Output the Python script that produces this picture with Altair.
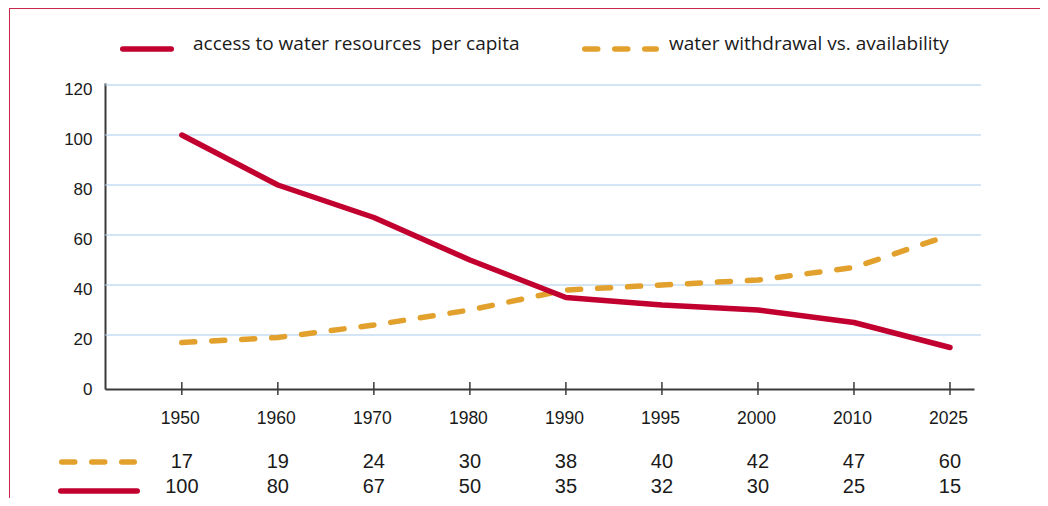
import altair as alt
import pandas as pd

# ---- data ----
years = ["1950", "1960", "1970", "1980", "1990", "1995", "2000", "2010", "2025"]
withdrawal = [17, 19, 24, 30, 38, 40, 42, 47, 60]
access = [100, 80, 67, 50, 35, 32, 30, 25, 15]
grid_values = [20, 40, 60, 80, 100, 120]
y_ticks = [0, 20, 40, 60, 80, 100, 120]
series_labels = ["access to water resources\u00a0 per capita", "water withdrawal vs. availability"]

RED = "#C2002F"
ORANGE = "#E2A12C"
GRID = "#A9CCEB"
AXIS = "#3a3a3a"
TEXT = "#1a1a1a"
BORDER = "#C8284A"

idx = list(range(len(years)))
df = pd.DataFrame({"idx": idx, "year": years, "withdrawal": withdrawal, "access": access})
grid_df = pd.DataFrame({"v": grid_values})
lab_red = pd.DataFrame({"label": [series_labels[0]]})
lab_org = pd.DataFrame({"label": [series_labels[1]]})
one = pd.DataFrame({"a": [0]})

W, H = 869, 306
xscale = alt.Scale(domain=[-0.8, 8.25], nice=False, zero=False)
yscale = alt.Scale(domain=[-1.6, 120.8], nice=False, zero=False)

label_expr = "[" + ",".join(f"'{y}'" for y in years) + "][datum.value]"

x_axis = alt.Axis(values=idx, labelExpr=label_expr, ticks=False, grid=False,
                  domainColor=AXIS, domainWidth=2, labelFont="Liberation Sans",
                  labelFontSize=17.5, labelColor=TEXT, labelPadding=29,
                  labelBaseline="middle", labelOffset=-2, title=None,
                  labelFlush=False, labelOverlap=False)
y_axis = alt.Axis(values=y_ticks, ticks=False, grid=False, domainColor=AXIS,
                  domainWidth=2, labelFont="Liberation Sans", labelFontSize=17,
                  labelColor=TEXT, labelPadding=13, labelOffset=4, title=None,
                  labelFlush=False, labelOverlap=False)

X = alt.X("idx:Q", scale=xscale, axis=x_axis)

grid = alt.Chart(grid_df).mark_rule(color=GRID, strokeWidth=1.2).encode(
    y=alt.Y("v:Q", scale=yscale, axis=y_axis),
    x=alt.value(0), x2=alt.value(876))

ticks = alt.Chart(df).mark_rule(color=AXIS, strokeWidth=1.5).encode(
    x=X, y=alt.value(299), y2=alt.value(312))

red_line = alt.Chart(df).mark_line(color=RED, strokeWidth=5.5, interpolate="linear",
                                   strokeCap="round", strokeJoin="round").encode(
    x=X, y=alt.Y("access:Q", scale=yscale, axis=y_axis))

org_line = alt.Chart(df).mark_line(color=ORANGE, strokeWidth=5.5, interpolate="linear",
                                   strokeCap="round", strokeDash=[13, 17]).encode(
    x=X, y=alt.Y("withdrawal:Q", scale=yscale, axis=y_axis))

# top legend
leg_red = alt.Chart(one).mark_rule(color=RED, strokeWidth=5.5, strokeCap="round").encode(
    x=alt.value(17.75), x2=alt.value(66.25), y=alt.value(-34))
leg_org = alt.Chart(one).mark_rule(color=ORANGE, strokeWidth=5.5, strokeCap="round",
                                   strokeDash=[13, 17]).encode(
    x=alt.value(479.75), x2=alt.value(551.25), y=alt.value(-34))
leg_red_t = alt.Chart(lab_red).mark_text(font="Open Sans", fontSize=19, color=TEXT,
                                         align="left", baseline="alphabetic").encode(
    text="label:N", x=alt.value(88), y=alt.value(-33))
leg_org_t = alt.Chart(lab_org).mark_text(font="Open Sans", fontSize=19, color=TEXT,
                                         align="left", baseline="alphabetic").encode(
    text="label:N", x=alt.value(564), y=alt.value(-33))

# bottom table
tab_org_line = alt.Chart(one).mark_rule(color=ORANGE, strokeWidth=5.5, strokeCap="round",
                                        strokeDash=[13, 17]).encode(
    x=alt.value(-43.25), x2=alt.value(29.25), y=alt.value(379))
tab_red_line = alt.Chart(one).mark_rule(color=RED, strokeWidth=5.5, strokeCap="round").encode(
    x=alt.value(-44.25), x2=alt.value(32.25), y=alt.value(408))
tab_org = alt.Chart(df).mark_text(font="Liberation Sans", fontSize=20, color=TEXT,
                                  align="center", baseline="middle").encode(
    x=X, y=alt.value(379), text="withdrawal:Q")
tab_red = alt.Chart(df).mark_text(font="Liberation Sans", fontSize=20, color=TEXT,
                                  align="center", baseline="middle").encode(
    x=X, y=alt.value(404), text="access:Q")

# frame
border_left = alt.Chart(one).mark_rule(color=BORDER, strokeWidth=1).encode(
    x=alt.value(-95.5), y=alt.value(-75), y2=alt.value(415))
border_top = alt.Chart(one).mark_rule(color=BORDER, strokeWidth=1).encode(
    x=alt.value(-95.5), x2=alt.value(935), y=alt.value(-74.5))

chart = alt.layer(
    grid, ticks, org_line, red_line,
    leg_red, leg_org, leg_red_t, leg_org_t,
    tab_org_line, tab_red_line, tab_org, tab_red,
    border_left, border_top,
).properties(
    width=W, height=H,
    padding={"left": 97, "top": 75, "right": 66, "bottom": 109},
    autosize=alt.AutoSizeParams(type="none"),
).configure_view(stroke=None)

chart.save("out.html", embed_options={"renderer": "svg", "actions": False})
